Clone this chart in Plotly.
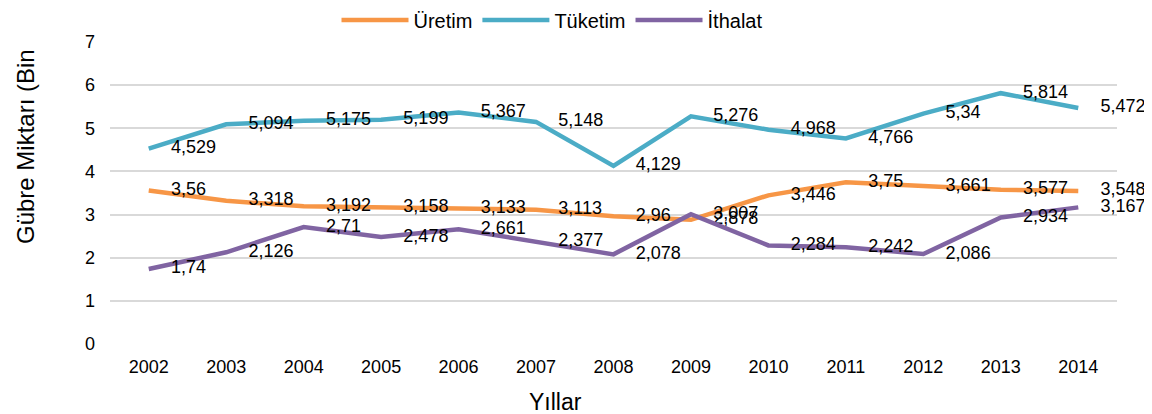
import plotly.graph_objects as go

years = ["2002", "2003", "2004", "2005", "2006", "2007", "2008", "2009", "2010", "2011", "2012", "2013", "2014"]
uretim = [3.56, 3.318, 3.192, 3.158, 3.133, 3.113, 2.96, 2.878, 3.446, 3.75, 3.661, 3.577, 3.548]
tuketim = [4.529, 5.094, 5.175, 5.199, 5.367, 5.148, 4.129, 5.276, 4.968, 4.766, 5.34, 5.814, 5.472]
ithalat = [1.74, 2.126, 2.71, 2.478, 2.661, 2.377, 2.078, 3.007, 2.284, 2.242, 2.086, 2.934, 3.167]

series = [
    ("Üretim", uretim, "#F79646"),
    ("Tüketim", tuketim, "#4BACC6"),
    ("İthalat", ithalat, "#8064A2"),
]

FONT = "Liberation Sans, Arial, sans-serif"

def fmt(v):
    return str(v).replace(".", ",")

fig = go.Figure()
for name, vals, col in series:
    fig.add_trace(go.Scatter(
        x=years, y=vals, name=name, mode="lines+markers+text",
        line=dict(color=col, width=4.5),
        marker=dict(size=34, color="rgba(0,0,0,0)"),
        text=[fmt(v) for v in vals],
        textposition="middle right",
        textfont=dict(family=FONT, size=18, color="#000000"),
        cliponaxis=False,
    ))

# page body has an 8px default margin, so the figure is drawn 8px in from the window edges
fig.update_layout(
    width=1144, height=406,
    margin=dict(l=102, r=35, t=34, b=70, autoexpand=False),
    paper_bgcolor="white", plot_bgcolor="white",
    font=dict(family=FONT, color="#000000"),
    showlegend=True,
    legend=dict(
        orientation="h", xref="paper", yref="paper",
        x=(552 - 110) / 1007, y=1 + 22 / 302, xanchor="center", yanchor="middle",
        font=dict(family=FONT, size=20, color="#000000"),
        itemwidth=67, tracegroupgap=0, bgcolor="rgba(0,0,0,0)",
    ),
    xaxis=dict(
        type="category", range=[-0.5, 12.5], autorange=False,
        showgrid=False, showline=False, zeroline=False,
        tickfont=dict(family=FONT, size=18, color="#000000"),
        ticklabelstandoff=10, automargin=False,
    ),
    yaxis=dict(
        range=[0, 7], autorange=False, dtick=1, showgrid=True, gridcolor="#D9D9D9", gridwidth=1.5,
        zeroline=False, showline=False,
        tickfont=dict(family=FONT, size=18, color="#000000"),
        ticklabelstandoff=14, automargin=False,
    ),
    annotations=[
        dict(text="Gübre Miktarı (Bin", xref="paper", yref="paper",
             x=(25 - 110) / 1007, y=(344 - 147) / 302, textangle=-90,
             showarrow=False, xanchor="center", yanchor="middle",
             font=dict(family=FONT, size=24, color="#000000")),
        dict(text="Yıllar", xref="paper", yref="paper",
             x=(555 - 110) / 1007, y=(344 - 402) / 302,
             showarrow=False, xanchor="center", yanchor="middle",
             font=dict(family=FONT, size=23, color="#000000")),
    ],
)

fig.write_html("out.html")
